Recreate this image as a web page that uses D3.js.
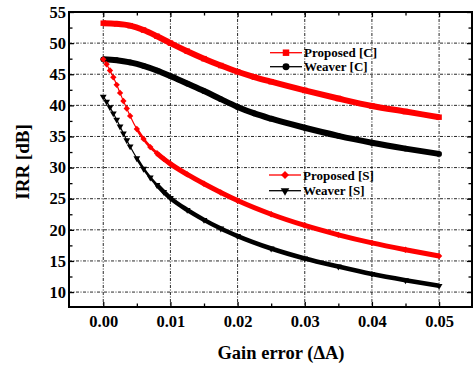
<!DOCTYPE html>
<html>
<head>
<meta charset="utf-8">
<script src="https://cdn.jsdelivr.net/npm/d3@7"></script>
<style>
  body { margin: 0; background: #fff; }
  svg { display: block; }
</style>
</head>
<body>
<div id="chart"></div>
<script>
// gain error values (x) for the two families of curves
const xC = [0, 0.002, 0.004, 0.006, 0.008, 0.010, 0.0125, 0.015, 0.0175, 0.020, 0.0225, 0.025, 0.030, 0.035, 0.040, 0.045, 0.050];
const proposedC = [53.2, 53.1, 52.8, 52.1, 51.1, 50.0, 48.7, 47.5, 46.4, 45.4, 44.55, 43.8, 42.4, 41.1, 39.9, 39.0, 38.1];
const weaverC = [47.4, 47.25, 46.9, 46.35, 45.6, 44.7, 43.5, 42.3, 41.0, 39.75, 38.7, 37.85, 36.4, 35.1, 34.0, 33.05, 32.2];

const xS = [0, 0.0005, 0.001, 0.0015, 0.002, 0.0025, 0.003, 0.0035, 0.004, 0.005, 0.006, 0.007, 0.008, 0.009, 0.010, 0.0125, 0.015, 0.0175, 0.020, 0.025, 0.030, 0.035, 0.040, 0.045, 0.050];
const proposedS = [47.4, 46.6, 45.6, 44.5, 43.3, 42.0, 40.7, 39.5, 38.3, 36.2, 34.6, 33.3, 32.3, 31.4, 30.6, 28.9, 27.4, 26.0, 24.7, 22.5, 20.7, 19.2, 17.9, 16.8, 15.8];
const weaverS = [41.4, 40.6, 39.7, 38.7, 37.7, 36.6, 35.5, 34.4, 33.4, 31.5, 29.8, 28.4, 27.2, 26.1, 25.1, 23.2, 21.6, 20.2, 19.0, 17.0, 15.4, 14.1, 12.9, 11.9, 11.0];

const xTicks = [0, 0.01, 0.02, 0.03, 0.04, 0.05];
const xMinor = [0.005, 0.015, 0.025, 0.035, 0.045];
const yTicks = [10, 15, 20, 25, 30, 35, 40, 45, 50, 55];
const yMinor = [12.5, 17.5, 22.5, 27.5, 32.5, 37.5, 42.5, 47.5, 52.5];

const legendNames = ['Proposed [C]', 'Weaver [C]', 'Proposed [S]', 'Weaver [S]'];

const width = 474;
const height = 366;
const margin = { top: 12, right: 2, bottom: 59, left: 69 };
const plotW = width - margin.left - margin.right;
const plotH = height - margin.top - margin.bottom;
const font = '"Liberation Serif", "Times New Roman", serif';

const x = d3.scaleLinear().domain([-0.0051, 0.0549]).range([0, plotW]);
const y = d3.scaleLinear().domain([7.6, 55]).range([plotH, 0]);

const svg = d3.select('#chart').append('svg')
  .attr('width', width)
  .attr('height', height);

const g = svg.append('g')
  .attr('transform', `translate(${margin.left},${margin.top})`);

// dotted grid
const grid = g.append('g').attr('stroke', '#111').attr('stroke-width', 0.9)
  .attr('stroke-dasharray', '3,1.5,1,1.5');
grid.selectAll('line.v').data(xTicks).enter().append('line')
  .attr('x1', (d) => x(d)).attr('x2', (d) => x(d))
  .attr('y1', 0).attr('y2', plotH);
grid.selectAll('line.h').data(yTicks.filter((d) => d < 55)).enter().append('line')
  .attr('x1', 0).attr('x2', plotW)
  .attr('y1', (d) => y(d)).attr('y2', (d) => y(d));

// bands: [start x, stroke width] - dense markers merge into a thick line
const series = [
  { name: legendNames[0], xs: xC, ys: proposedC, color: '#ff0000', marker: 'square', bands: [[0, 6]] },
  { name: legendNames[1], xs: xC, ys: weaverC, color: '#000000', marker: 'circle', bands: [[0, 6]] },
  { name: legendNames[2], xs: xS, ys: proposedS, color: '#ff0000', marker: 'diamond', bands: [[0.0045, 2.8], [0.0075, 5]] },
  { name: legendNames[3], xs: xS, ys: weaverS, color: '#000000', marker: 'triangle', bands: [[0.0045, 2.6], [0.0075, 4.5]] }
];

const symbolFor = {
  square: { type: d3.symbolSquare, size: 30, rotate: 0 },
  circle: { type: d3.symbolCircle, size: 26, rotate: 0 },
  diamond: { type: d3.symbolSquare, size: 20, rotate: 45 },
  triangle: { type: d3.symbolTriangle, size: 20, rotate: 180 }
};

const line = d3.line()
  .x((d) => x(d[0]))
  .y((d) => y(d[1]))
  .curve(d3.curveMonotoneX);

series.forEach((s) => {
  const pts = s.xs.map((v, i) => [v, s.ys[i]]);
  const sg = g.append('g').attr('class', 'series');
  sg.append('path')
    .attr('d', line(pts))
    .attr('fill', 'none')
    .attr('stroke', s.color)
    .attr('stroke-width', 1.2);
  s.bands.forEach((b) => {
    sg.append('path')
      .attr('d', line(pts.filter((p) => p[0] >= b[0])))
      .attr('fill', 'none')
      .attr('stroke', s.color)
      .attr('stroke-width', b[1]);
  });
  const sym = symbolFor[s.marker];
  sg.selectAll('path.mark').data(pts).enter().append('path')
    .attr('class', 'mark')
    .attr('d', d3.symbol().type(sym.type).size(sym.size))
    .attr('transform', (d) => `translate(${x(d[0])},${y(d[1])}) rotate(${sym.rotate})`)
    .attr('fill', s.color);
});

// axes with inward ticks
function styleAxis(sel) {
  sel.select('.domain').remove();
  sel.selectAll('line').attr('stroke', '#000').attr('stroke-width', 1.3);
  sel.selectAll('text')
    .attr('font-family', font)
    .attr('font-weight', 'bold')
    .attr('font-size', 16.5)
    .attr('fill', '#000');
}

g.append('g').attr('transform', `translate(0,${plotH})`)
  .call(d3.axisBottom(x).tickValues(xTicks).tickSize(-5).tickPadding(8).tickFormat(d3.format('.2f')))
  .call(styleAxis);
g.append('g').attr('transform', `translate(0,${plotH})`)
  .call(d3.axisBottom(x).tickValues(xMinor).tickSize(-3.5).tickFormat(''))
  .call(styleAxis);
g.append('g')
  .call(d3.axisTop(x).tickValues(xTicks).tickSize(-5).tickFormat(''))
  .call(styleAxis);
g.append('g')
  .call(d3.axisTop(x).tickValues(xMinor).tickSize(-3.5).tickFormat(''))
  .call(styleAxis);
g.append('g')
  .call(d3.axisLeft(y).tickValues(yTicks).tickSize(-5).tickPadding(3))
  .call(styleAxis);
g.append('g')
  .call(d3.axisLeft(y).tickValues(yMinor).tickSize(-3.5).tickFormat(''))
  .call(styleAxis);
g.append('g').attr('transform', `translate(${plotW},0)`)
  .call(d3.axisRight(y).tickValues(yTicks).tickSize(-5).tickFormat(''))
  .call(styleAxis);
g.append('g').attr('transform', `translate(${plotW},0)`)
  .call(d3.axisRight(y).tickValues(yMinor).tickSize(-3.5).tickFormat(''))
  .call(styleAxis);

// frame
g.append('rect')
  .attr('width', plotW).attr('height', plotH)
  .attr('fill', 'none').attr('stroke', '#000').attr('stroke-width', 2);

// legend
const legendPos = [
  { x: 201, y: 40.7 },
  { x: 201, y: 54.7 },
  { x: 200, y: 163 },
  { x: 200, y: 178.7 }
];
series.forEach((s, i) => {
  const p = legendPos[i];
  const lg = g.append('g').attr('transform', `translate(${p.x},${p.y})`);
  lg.append('line').attr('x1', 0).attr('x2', 32).attr('stroke', s.color).attr('stroke-width', 1.3);
  const sym = symbolFor[s.marker];
  lg.append('path')
    .attr('d', d3.symbol().type(sym.type).size(sym.size + 12))
    .attr('transform', `translate(16,0) rotate(${sym.rotate})`)
    .attr('fill', s.color);
  lg.append('text')
    .attr('x', 34).attr('y', 4.5)
    .attr('font-family', font).attr('font-weight', 'bold').attr('font-size', 13)
    .text(s.name);
});

// axis titles
svg.append('text')
  .attr('x', 281).attr('y', 359)
  .attr('text-anchor', 'middle')
  .attr('font-family', font).attr('font-weight', 'bold').attr('font-size', 18.5)
  .text('Gain error (ΔA)');
svg.append('text')
  .attr('transform', 'translate(29,162) rotate(-90)')
  .attr('text-anchor', 'middle')
  .attr('font-family', font).attr('font-weight', 'bold').attr('font-size', 19)
  .text('IRR [dB]');
</script>
</body>
</html>
